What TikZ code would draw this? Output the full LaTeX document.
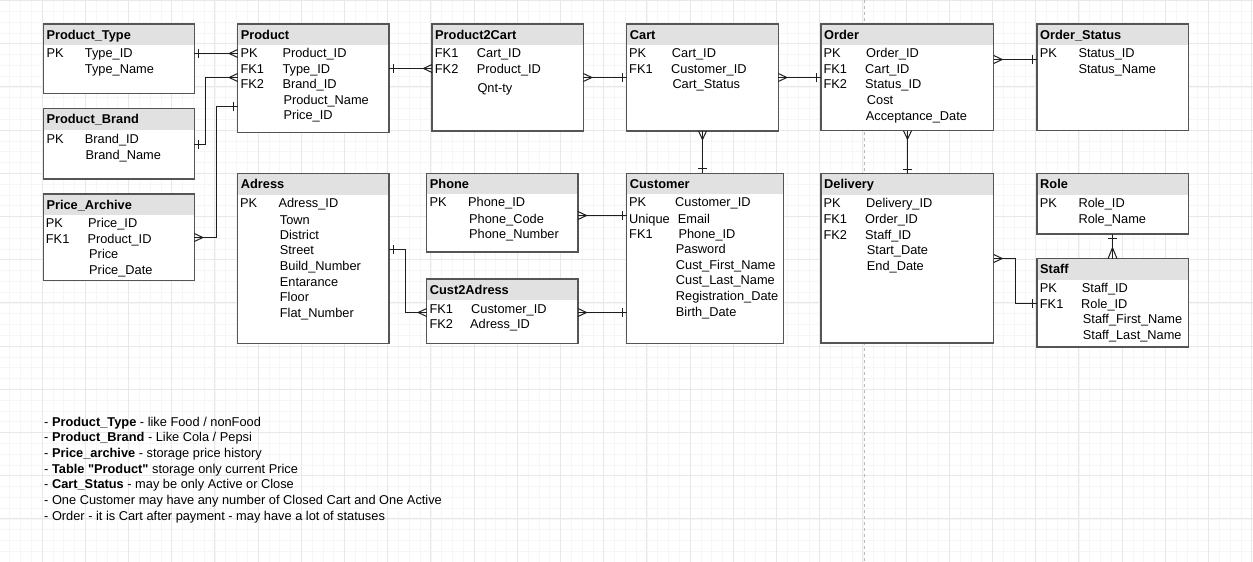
\documentclass[tikz,border=0pt]{standalone}
\usepackage{fontspec}
\setmainfont{Liberation Sans}[Ligatures=TeXOff]

\definecolor{gridmajor}{RGB}{232,232,232}
\definecolor{gridminor}{RGB}{246,246,246}
\definecolor{pagebreak}{RGB}{185,185,185}
\definecolor{headfill}{RGB}{225,225,225}
\definecolor{boxline}{RGB}{85,85,85}
\definecolor{connline}{RGB}{30,30,30}

\tikzset{
  tbl/.style={fill=white, inner sep=0pt, outer sep=0pt, anchor=north west, rectangle},
  tblborder/.style={draw=boxline, line width=1.3pt},
  head/.style={anchor=base west, inner sep=0pt, font=\fontsize{12.8}{15}\selectfont\bfseries},
  fld/.style={anchor=base west, inner sep=0pt, font=\fontsize{12.8}{15}\selectfont},
  note/.style={anchor=base west, inner sep=0pt, font=\fontsize{12.8}{15}\selectfont},
  conn/.style={draw=connline, line width=1pt},
  crow/.pic={\draw[conn] (0,4) -- (-8.5,0) -- (0,-4);},
  crowlong/.pic={\draw[conn] (0,4.5) -- (-11,0) -- (0,-4.5);},
  bar/.pic={\draw[conn] (-4.5,4.2) -- (-4.5,-4.2);},
}

% table: name, left, top, right, bottom, title
\newcommand\ertable[6]{%
  \node[tbl, minimum width={(#4-#2)*1pt}, minimum height={(#5-#3)*1pt}] (#1) at (#2,#3) {};
  \fill[headfill] (#1.north west) rectangle ({#4},{#3+21});
  \draw[tblborder] (#1.north west) rectangle (#1.south east);
  \node[head] (#1-title) at ({#2+3},{#3+15.1}) {#6};
}
\newcounter{fieldno}
% field text: ink left x, visual centre y, text
\newcommand\fld[3]{\stepcounter{fieldno}%
  \node[fld] (field\arabic{fieldno}) at ({#1-1},{#2+4.6}) {#3};}

\begin{document}
\begin{tikzpicture}[x=1pt,y=-1pt]
\useasboundingbox (0,0) rectangle (1253,562);
\fill[white] (0,0) rectangle (1253,562);

% background grid
\foreach \k in {0,...,116}
  \draw[gridminor, line width=0.8pt] ({-1.1+10.8*\k},0) -- ({-1.1+10.8*\k},562);
\foreach \k in {0,...,52}
  \draw[gridminor, line width=0.8pt] (0,{0.5+10.8*\k}) -- (1253,{0.5+10.8*\k});
\foreach \k in {1,...,29}
  \draw[gridmajor, line width=0.9pt] ({-1.1+43.2*\k},0) -- ({-1.1+43.2*\k},562);
\foreach \k in {0,...,13}
  \draw[gridmajor, line width=0.9pt] (0,{0.5+43.2*\k}) -- (1253,{0.5+43.2*\k});
% page break
\draw[pagebreak, line width=1pt, dash pattern=on 3pt off 3pt] (864,0) -- (864,562);

% ---------- tables ----------
\ertable{ptype}{43.3}{24}{194.3}{93.3}{Product\_Type}
\fld{47.3}{53.3}{PK}\fld{85.7}{53.3}{Type\_ID}
\fld{85.7}{69.3}{Type\_Name}

\ertable{pbrand}{43.3}{108.7}{194.3}{179}{Product\_Brand}
\fld{47.3}{139.3}{PK}\fld{85.7}{139.3}{Brand\_ID}
\fld{86.3}{154.5}{Brand\_Name}

\ertable{parch}{43.3}{194}{194.3}{280.7}{Price\_Archive}
\fld{46.7}{223.3}{PK}\fld{89}{223.3}{Price\_ID}
\fld{46.7}{239.3}{FK1}\fld{88.3}{239.3}{Product\_ID}
\fld{90}{254.3}{Price}
\fld{90}{270}{Price\_Date}

\ertable{prod}{237.7}{24}{389}{132.3}{Product}
\fld{241.3}{53.3}{PK}\fld{283.3}{53.3}{Product\_ID}
\fld{241.3}{69.3}{FK1}\fld{283.3}{69.3}{Type\_ID}
\fld{241.3}{84}{FK2}\fld{283.3}{84}{Brand\_ID}
\fld{284.3}{100.3}{Product\_Name}
\fld{284.3}{115}{Price\_ID}

\ertable{adr}{237.7}{173.7}{389}{343.3}{Adress}
\fld{241}{203}{PK}\fld{279.3}{203}{Adress\_ID}
\fld{280.7}{219.7}{Town}
\fld{280.7}{235.3}{District}
\fld{280.7}{250.3}{Street}
\fld{280.7}{266.3}{Build\_Number}
\fld{280.7}{281.7}{Entarance}
\fld{280.7}{297}{Floor}
\fld{280.7}{313}{Flat\_Number}

\ertable{ptocart}{432}{24}{583.3}{131}{Product2Cart}
\fld{435.7}{53.3}{FK1}\fld{477.7}{53.3}{Cart\_ID}
\fld{435.7}{69.3}{FK2}\fld{477.7}{69.3}{Product\_ID}
\fld{478.3}{88.3}{Qnt-ty}

\ertable{cart}{626.7}{24}{778.3}{131}{Cart}
\fld{630}{53.3}{PK}\fld{672.7}{53.3}{Cart\_ID}
\fld{630}{69.3}{FK1}\fld{672}{69.3}{Customer\_ID}
\fld{673.3}{84}{Cart\_Status}

\ertable{order}{821}{24}{993.7}{130.7}{Order}
\fld{824.3}{53.3}{PK}\fld{867}{53.3}{Order\_ID}
\fld{824.3}{69.3}{FK1}\fld{866}{69.3}{Cart\_ID}
\fld{824.3}{84}{FK2}\fld{866}{84}{Status\_ID}
\fld{867.7}{100}{Cost}
\fld{866.7}{115.7}{Acceptance\_Date}

\ertable{ostatus}{1037}{24}{1188.3}{130.7}{Order\_Status}
\fld{1040.7}{53.3}{PK}\fld{1079.3}{53.3}{Status\_ID}
\fld{1079.3}{69.3}{Status\_Name}

\ertable{phone}{426.7}{173.3}{578}{252}{Phone}
\fld{430.3}{202.3}{PK}\fld{469}{202.3}{Phone\_ID}
\fld{470}{218.7}{Phone\_Code}
\fld{470}{234.3}{Phone\_Number}

\ertable{custadr}{426.7}{279}{578}{343.7}{Cust2Adress}
\fld{430.3}{309.3}{FK1}\fld{472}{309.3}{Customer\_ID}
\fld{430.3}{324.3}{FK2}\fld{471}{324.3}{Adress\_ID}

\ertable{cust}{626.7}{173.3}{783.3}{343.7}{Customer}
\fld{630}{202.3}{PK}\fld{676}{202.3}{Customer\_ID}
\fld{630}{218.7}{Unique}\fld{678.7}{218.7}{Email}
\fld{630}{234}{FK1}\fld{679.3}{234}{Phone\_ID}
\fld{676.7}{249.3}{Pasword}
\fld{676.7}{265.3}{Cust\_First\_Name}
\fld{676.7}{280.3}{Cust\_Last\_Name}
\fld{676.7}{296.3}{Registration\_Date}
\fld{676.7}{312.3}{Birth\_Date}

\ertable{deliv}{821}{173.7}{993.7}{343}{Delivery}
\fld{824.3}{203}{PK}\fld{867}{203}{Delivery\_ID}
\fld{824.3}{219.3}{FK1}\fld{866}{219.3}{Order\_ID}
\fld{824.3}{235}{FK2}\fld{866}{235}{Staff\_ID}
\fld{867.7}{250.3}{Start\_Date}
\fld{867.7}{266}{End\_Date}

\ertable{role}{1037}{173.7}{1188.3}{234}{Role}
\fld{1040.7}{203}{PK}\fld{1079.3}{203}{Role\_ID}
\fld{1079.3}{219.3}{Role\_Name}

\ertable{staff}{1037}{258.7}{1188.3}{347}{Staff}
\fld{1040.7}{288}{PK}\fld{1082.7}{288}{Staff\_ID}
\fld{1040.7}{304}{FK1}\fld{1082}{304}{Role\_ID}
\fld{1083.7}{319.3}{Staff\_First\_Name}
\fld{1083.7}{335.3}{Staff\_Last\_Name}

% ---------- relationships ----------
% Product_Type 1 -- * Product
\coordinate (r1s) at ([yshift=-29.5pt]ptype.north east);
\coordinate (r1e) at ([yshift=-29.5pt]prod.north west);
\draw[conn] (r1s) -- (r1e);
\pic[rotate=180] at (r1s) {bar};
\pic at (r1e) {crow};

% Product_Brand 1 -- * Product
\coordinate (r2s) at ([yshift=-35.8pt]pbrand.north east);
\coordinate (r2e) at ([yshift=-53.5pt]prod.north west);
\draw[conn] (r2s) -- ++(11.2,0) |- (r2e);
\pic[rotate=180] at (r2s) {bar};
\pic at (r2e) {crow};

% Price_Archive * -- 1 Product
\coordinate (r3s) at ([yshift=-43.5pt]parch.north east);
\coordinate (r3e) at ([yshift=-82.5pt]prod.north west);
\draw[conn] (r3s) -- ++(22.2,0) |- (r3e);
\pic[rotate=180] at (r3s) {crow};
\pic at (r3e) {bar};

% Product 1 -- * Product2Cart
\coordinate (r4s) at ([yshift=-44.5pt]prod.north east);
\coordinate (r4e) at ([yshift=-44.5pt]ptocart.north west);
\draw[conn] (r4s) -- (r4e);
\pic[rotate=180] at (r4s) {bar};
\pic at (r4e) {crow};

% Product2Cart * -- 1 Cart
\coordinate (r5s) at ([yshift=-53.5pt]ptocart.north east);
\coordinate (r5e) at ([yshift=-53.5pt]cart.north west);
\draw[conn] (r5s) -- (r5e);
\pic[rotate=180] at (r5s) {crow};
\pic at (r5e) {bar};

% Cart * -- 1 Order
\coordinate (r6s) at ([yshift=-53.5pt]cart.north east);
\coordinate (r6e) at ([yshift=-53.5pt]order.north west);
\draw[conn] (r6s) -- (r6e);
\pic[rotate=180] at (r6s) {crow};
\pic at (r6e) {bar};

% Order * -- 1 Order_Status
\coordinate (r7s) at ([yshift=-35.5pt]order.north east);
\coordinate (r7e) at ([yshift=-35.5pt]ostatus.north west);
\draw[conn] (r7s) -- (r7e);
\pic[rotate=180] at (r7s) {crow};
\pic at (r7e) {bar};

% Cart * -- 1 Customer
\coordinate (r8s) at (cart.south);
\coordinate (r8e) at (cart.south |- cust.north);
\draw[conn] (r8s) -- (r8e);
\pic[rotate=90] at (r8s) {crow};
\pic[rotate=-90] at (r8e) {bar};

% Order * -- 1 Delivery
\coordinate (r9s) at ([xshift=0.15pt]order.south);
\coordinate (r9e) at (r9s |- deliv.north);
\draw[conn] (r9s) -- (r9e);
\pic[rotate=90] at (r9s) {crow};
\pic[rotate=-90] at (r9e) {bar};

% Phone * -- 1 Customer
\coordinate (r10s) at ([yshift=-42.2pt]phone.north east);
\coordinate (r10e) at ([yshift=-42.2pt]cust.north west);
\draw[conn] (r10s) -- (r10e);
\pic[rotate=180] at (r10s) {crow};
\pic at (r10e) {bar};

% Cust2Adress * -- 1 Customer
\coordinate (r11s) at ([yshift=-33.5pt]custadr.north east);
\coordinate (r11e) at ([yshift=-139.2pt]cust.north west);
\draw[conn] (r11s) -- (r11e);
\pic[rotate=180] at (r11s) {crow};
\pic at (r11e) {bar};

% Adress 1 -- * Cust2Adress
\coordinate (r12s) at ([yshift=-75.8pt]adr.north east);
\coordinate (r12e) at ([yshift=-33.5pt]custadr.north west);
\draw[conn] (r12s) -- ++(16.5,0) |- (r12e);
\pic[rotate=180] at (r12s) {bar};
\pic at (r12e) {crow};

% Delivery * -- 1 Staff
\coordinate (r13s) at ([yshift=-84.8pt]deliv.north east);
\coordinate (r13e) at ([yshift=-44.8pt]staff.north west);
\draw[conn] (r13s) -- ++(21.8,0) |- (r13e);
\pic[rotate=180] at (r13s) {crow};
\pic at (r13e) {bar};

% Role 1 -- * Staff
\coordinate (r14s) at ([xshift=-0.15pt]role.south);
\coordinate (r14e) at (r14s |- staff.north);
\draw[conn] (r14s) -- (r14e);
\pic[rotate=90] at (r14s) {bar};
\pic[rotate=-90] at (r14e) {crowlong};

% ---------- notes ----------
\node[note] (note1) at (44,426.3) {- \textbf{Product\_Type} - like Food / nonFood};
\node[note] (note2) at (44,441.9) {- \textbf{Product\_Brand} - Like Cola / Pepsi};
\node[note] (note3) at (44,457.3) {- \textbf{Price\_archive} - storage price history};
\node[note] (note4) at (44,473.3) {- \textbf{Table "Product"} storage only current Price};
\node[note] (note5) at (44,488.9) {- \textbf{Cart\_Status} - may be only Active or Close};
\node[note] (note6) at (44,504.3) {- One Customer may have any number of Closed Cart and One Active};
\node[note] (note7) at (44,520.3) {- Order - it is Cart after payment - may have a lot of statuses};
\end{tikzpicture}
\end{document}
